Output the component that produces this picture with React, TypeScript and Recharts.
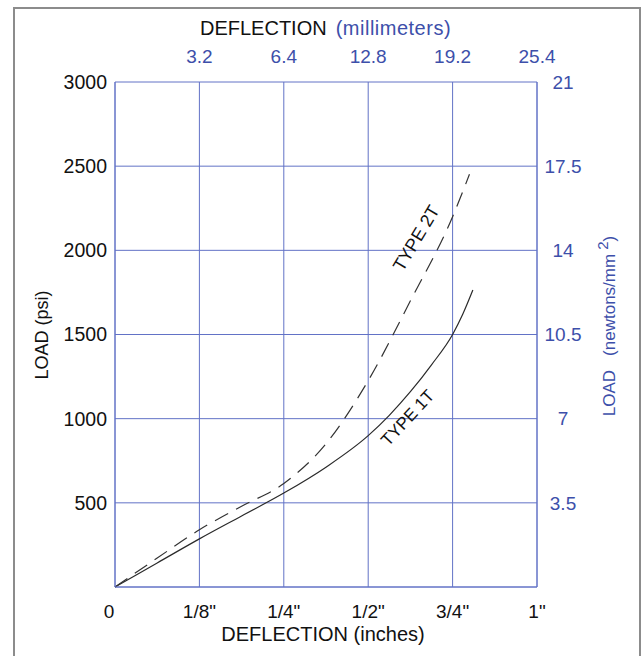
import { LineChart, Line, XAxis, YAxis, CartesianGrid, ReferenceDot } from 'recharts';

// x positions are the equally spaced grid columns (0 .. 1")
const type1Pos = [0, 0.5, 1, 1.5, 2, 2.5, 3, 3.25, 3.5, 3.75, 4, 4.12, 4.24];
const type1Load = [0, 143, 286, 422, 558, 712, 899, 1020, 1160, 1320, 1500, 1620, 1764];
const type2Pos = [0, 0.5, 1, 1.5, 2, 2.5, 3, 3.5, 4, 4.2];
const type2Load = [0, 172, 340, 480, 615, 851, 1226, 1700, 2200, 2452];

const xTicks = [0, 1, 2, 3, 4, 5];
const inchLabels = ['0', '1/8"', '1/4"', '1/2"', '3/4"', '1"'];
const mmLabels = ['', '3.2', '6.4', '12.8', '19.2', '25.4'];
const psiTicks = [0, 500, 1000, 1500, 2000, 2500, 3000];
const nmmTicks = [0, 3.5, 7, 10.5, 14, 17.5, 21];

const curveLabels = [
  { text: 'TYPE 2T', x: 3.57, y: 2072, angle: -59, size: 18 },
  { text: 'TYPE 1T', x: 3.47, y: 1004, angle: -47, size: 17 },
];

const type1Data = type1Pos.map((x, i) => ({ x, load: type1Load[i] }));
const type2Data = type2Pos.map((x, i) => ({ x, load: type2Load[i] }));

const BLUE = '#3d4faa';
const GRID = '#6272c6';
const FONT = '"Liberation Sans", Arial, sans-serif';

function renderRightTick(props: any) {
  const { x, y, payload } = props;
  if (payload.value === 0) return <g />;
  return (
    <text x={x + 24} y={y} dy="0.355em" textAnchor="middle" fill={BLUE} fontSize={19} fontFamily={FONT}>
      {payload.value}
    </text>
  );
}

function renderBottomTick(props: any) {
  const { x, y, payload } = props;
  const shift = payload.value === 0 ? -6 : 0;
  return (
    <text x={x + shift} y={y} dy="0.71em" textAnchor="middle" fill="#111" fontSize={19} fontFamily={FONT}>
      {inchLabels[payload.value]}
    </text>
  );
}

export default function App() {
  return (
    <div style={{ position: 'absolute', left: 0, top: 0, width: 643, height: 656, overflow: 'hidden', background: '#fff', fontFamily: FONT }}>
      <div style={{ position: 'absolute', left: 13, top: 7, width: 624, height: 700, border: '2px solid #8c8c8c' }} />
      <LineChart width={643} height={656} data={type1Data} margin={{ top: 52, right: 46, bottom: 39, left: 55 }}>
        <CartesianGrid xAxisId="bottom" yAxisId="left" stroke={GRID} strokeWidth={1} />
        <XAxis
          xAxisId="bottom"
          dataKey="x"
          type="number"
          domain={[0, 5]}
          ticks={xTicks}
          height={30}
          tickLine={false}
          tickSize={0}
          tickMargin={18}
          axisLine={{ stroke: GRID }}
          tick={renderBottomTick}
        />
        <XAxis
          xAxisId="top"
          orientation="top"
          dataKey="x"
          type="number"
          domain={[0, 5]}
          allowDataOverflow
          ticks={xTicks}
          tickFormatter={(v: number) => mmLabels[v]}
          height={30}
          tickLine={false}
          tickSize={0}
          tickMargin={19}
          axisLine={false}
          tick={{ fill: BLUE, fontSize: 19, fontFamily: FONT }}
        />
        <YAxis
          yAxisId="left"
          type="number"
          dataKey="load"
          domain={[0, 3000]}
          ticks={psiTicks}
          tickFormatter={(v: number) => (v === 0 ? '' : String(v))}
          width={60}
          tickLine={false}
          tickSize={0}
          tickMargin={8}
          axisLine={{ stroke: GRID }}
          tick={{ fill: '#111', fontSize: 19.5, fontFamily: FONT }}
        />
        <YAxis
          yAxisId="right"
          orientation="right"
          type="number"
          dataKey="load"
          domain={[0, 21]}
          allowDataOverflow
          ticks={nmmTicks}
          width={60}
          tickLine={false}
          tickSize={0}
          axisLine={{ stroke: GRID }}
          tick={renderRightTick}
        />
        <Line
          data={type1Data}
          xAxisId="bottom"
          yAxisId="left"
          type="monotone"
          dataKey="load"
          stroke="#2a2a2a"
          strokeWidth={1.2}
          dot={false}
          isAnimationActive={false}
        />
        <Line
          data={type2Data}
          xAxisId="bottom"
          yAxisId="left"
          type="monotone"
          dataKey="load"
          stroke="#333"
          strokeWidth={1.2}
          strokeDasharray="15 9"
          dot={false}
          isAnimationActive={false}
        />
        {curveLabels.map((c) => (
          <ReferenceDot
            key={c.text}
            xAxisId="bottom"
            yAxisId="left"
            x={c.x}
            y={c.y}
            r={0}
            shape={(p: any) => (
              <text
                x={p.cx}
                y={p.cy}
                textAnchor="middle"
                dominantBaseline="central"
                fontSize={c.size}
                fontFamily={FONT}
                fill="#111"
                transform={`rotate(${c.angle} ${p.cx} ${p.cy})`}
              >
                {c.text}
              </text>
            )}
          />
        ))}
      </LineChart>
      <div style={{ position: 'absolute', left: 200, top: 16, fontSize: 20, whiteSpace: 'nowrap', lineHeight: '24px' }}>
        <span style={{ color: '#111' }}>DEFLECTION</span>
        <span style={{ color: BLUE, marginLeft: 9, letterSpacing: 0.5 }}>(millimeters)</span>
      </div>
      <div style={{ position: 'absolute', left: 213, top: 622, fontSize: 20, color: '#111', whiteSpace: 'nowrap', lineHeight: '24px', width: 220, textAlign: 'center' }}>
        DEFLECTION (inches)
      </div>
      <div
        style={{
          position: 'absolute',
          left: 42,
          top: 335,
          transform: 'translate(-50%, -50%) rotate(-90deg)',
          fontSize: 18,
          color: '#111',
          whiteSpace: 'nowrap',
        }}
      >
        LOAD (psi)
      </div>
      <div
        style={{
          position: 'absolute',
          left: 607,
          top: 326,
          transform: 'translate(-50%, -50%) rotate(-90deg)',
          fontSize: 17,
          color: BLUE,
          whiteSpace: 'nowrap',
        }}
      >
        LOAD<span style={{ marginLeft: 14 }}>(newtons/mm</span>
        <sup style={{ fontSize: 15, marginLeft: 4 }}>2</sup>)
      </div>
    </div>
  );
}
